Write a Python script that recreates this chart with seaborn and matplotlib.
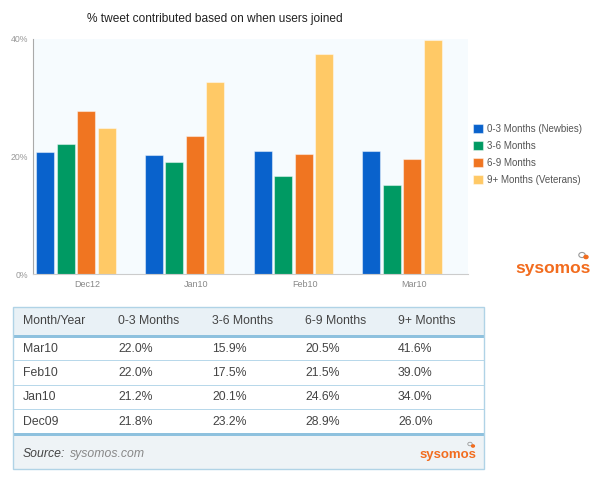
import numpy as np
import pandas as pd
import matplotlib
matplotlib.use("Agg")
import matplotlib.pyplot as plt
from matplotlib.patches import Rectangle, Circle
import seaborn as sns

# ---------------- data ----------------
months = ["Dec12", "Jan10", "Feb10", "Mar10"]
groups = ["0-3 Months (Newbies)", "3-6 Months", "6-9 Months", "9+ Months (Veterans)"]
newbies = [20.8, 20.2, 21.0, 21.0]
m3_6 = [22.2, 19.1, 16.6, 15.1]
m6_9 = [27.7, 23.5, 20.5, 19.6]
veterans = [24.8, 32.6, 37.4, 39.8]
y_ticks = [0, 20, 40]
y_tick_labels = ["0%", "20%", "40%"]

table_header = ["Month/Year", "0-3 Months", "3-6 Months", "6-9 Months", "9+ Months"]
table_months = ["Mar10", "Feb10", "Jan10", "Dec09"]
table_0_3 = ["22.0%", "22.0%", "21.2%", "21.8%"]
table_3_6 = ["15.9%", "17.5%", "20.1%", "23.2%"]
table_6_9 = ["20.5%", "21.5%", "24.6%", "28.9%"]
table_9p = ["41.6%", "39.0%", "34.0%", "26.0%"]

colors = ["#0962cc", "#009a63", "#f07521", "#ffc966"]

df = pd.DataFrame({
    "month": months * 4,
    "group": [g for g in groups for _ in months],
    "value": newbies + m3_6 + m6_9 + veterans,
})

# ---------------- figure ----------------
W, H = 600, 479
sns.set_theme(style="white")
plt.rcParams["font.family"] = ["Liberation Sans", "DejaVu Sans"]
fig = plt.figure(figsize=(W / 100, H / 100), dpi=100)
fig.patch.set_facecolor("white")

def fx(x):
    return x / W

def fy(y):
    return 1 - y / H

# chart axes: x 33..468, y 39..274
ax = fig.add_axes([fx(33), fy(274), (468 - 33) / W, (274 - 39) / H])
ax.set_facecolor("#f6fbfe")

sns.barplot(data=df, x="month", y="value", hue="group", order=months,
            hue_order=groups, palette=colors, saturation=1, width=0.754, gap=0.12,
            edgecolor=(1, 1, 1, 0.45), linewidth=0.8, ax=ax, legend=True)

shift = 0.105
ax.set_xlim(-0.5 + shift, len(months) - 0.5 + shift)
ax.set_ylim(0, 40)
ax.set_xticks(np.arange(len(months)) + shift)
ax.set_xticklabels(months, fontsize=6.5, color="#888888")
ax.set_yticks(y_ticks)
ax.set_yticklabels(y_tick_labels, fontsize=6.3, color="#999999")
ax.tick_params(axis="y", length=2, width=0.6, color="#aaaaaa", pad=1.5)
ax.tick_params(axis="x", length=2, width=0.6, color="#bbbbbb", pad=2)
ax.set_xlabel("")
ax.set_ylabel("")
for s in ["top", "right"]:
    ax.spines[s].set_visible(False)
ax.spines["left"].set_color("#aaaaaa")
ax.spines["left"].set_linewidth(0.8)
ax.spines["bottom"].set_color("#cccccc")
ax.spines["bottom"].set_linewidth(0.8)

# legend
handles, labels = ax.get_legend_handles_labels()
ax.get_legend().remove()
fig.legend(handles, labels, loc="upper left", bbox_to_anchor=(fx(469), fy(120)),
           frameon=False, fontsize=7, labelcolor="#555555", handlelength=1.0,
           handleheight=1.0, handletextpad=0.5, labelspacing=0.72,
           borderaxespad=0)

# title
fig.text(fx(215), fy(19), "% tweet contributed based on when users joined",
         ha="center", va="center", fontsize=8.6, color="#222222")

# chart logo
fig.text(fx(553), fy(269), "sysomos", ha="center", va="center", fontsize=12.5,
         fontweight="bold", color="#f26c1e")
fig.add_artist(Circle((fx(582), fy(255)), 3.2 / W, transform=fig.transFigure,
                      fill=False, edgecolor="#999999", lw=0.8))
fig.add_artist(Circle((fx(586), fy(257)), 2.0 / W, transform=fig.transFigure,
                      color="#f26c1e"))

# ---------------- table ----------------
def rect(x0, y0, x1, y1, **kw):
    fig.add_artist(Rectangle((fx(x0), fy(y1)), (x1 - x0) / W, (y1 - y0) / H,
                             transform=fig.transFigure, **kw))

left, right = 13, 484
rect(left, 307, right, 335, facecolor="#e9f1f6", edgecolor="none")
rect(left, 335, right, 338, facecolor="#8ec1de", edgecolor="none")
rect(left, 338, right, 433, facecolor="white", edgecolor="none")
rect(left, 433, right, 436, facecolor="#8ec1de", edgecolor="none")
rect(left, 436, right, 469, facecolor="#eef3f6", edgecolor="none")
for yy in [360.5, 385, 409]:
    rect(left, yy - 0.5, right, yy + 0.5, facecolor="#b8d8ea", edgecolor="none")
rect(left, 307, right, 469, facecolor="none", edgecolor="#b0d3e6", lw=1.0)

col_x = [23, 118, 212, 305, 398]
txt_kw = dict(ha="left", va="center", fontsize=8.8, color="#444444")
for cx, h in zip(col_x, table_header):
    fig.text(fx(cx), fy(321), h, **txt_kw)
columns = [table_months, table_0_3, table_3_6, table_6_9, table_9p]
row_y = [349, 373.5, 397.5, 422]
for cx, col in zip(col_x, columns):
    for ry, val in zip(row_y, col):
        fig.text(fx(cx), fy(ry), val, **txt_kw)

fig.text(fx(23), fy(454), "Source:", ha="left", va="center", fontsize=8.8,
         style="italic", color="#444444")
fig.text(fx(70), fy(454), "sysomos.com", ha="left", va="center", fontsize=8.8,
         style="italic", color="#888888")
fig.text(fx(476), fy(455), "sysomos", ha="right", va="center", fontsize=9.5,
         fontweight="bold", color="#f26c1e")
fig.add_artist(Circle((fx(470), fy(444)), 2.2 / W, transform=fig.transFigure,
                      fill=False, edgecolor="#999999", lw=0.6))
fig.add_artist(Circle((fx(473), fy(446)), 1.4 / W, transform=fig.transFigure,
                      color="#f26c1e"))

fig.savefig("out.png", dpi=100, facecolor="white")
